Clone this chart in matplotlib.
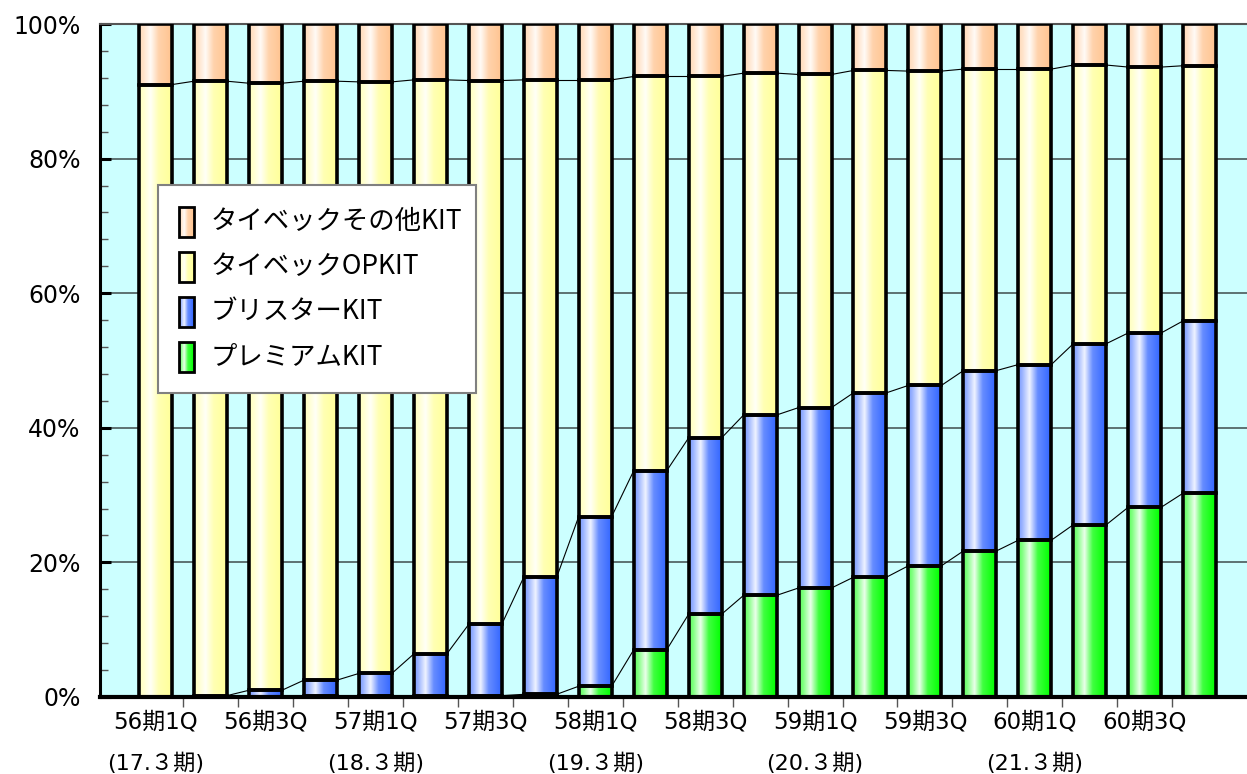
import numpy as np
import matplotlib
matplotlib.use("Agg")
import matplotlib.pyplot as plt
from matplotlib.patches import Rectangle
from matplotlib.colors import to_rgb
import matplotlib.transforms as mtransforms

# ---- data (share of each kit type, %) ----
quarters = ["56期1Q", "56期2Q", "56期3Q", "56期4Q",
            "57期1Q", "57期2Q", "57期3Q", "57期4Q",
            "58期1Q", "58期2Q", "58期3Q", "58期4Q",
            "59期1Q", "59期2Q", "59期3Q", "59期4Q",
            "60期1Q", "60期2Q", "60期3Q", "60期4Q"]
fiscal_notes = {0: "(17.３期)", 4: "(18.３期)", 8: "(19.３期)",
                12: "(20.３期)", 16: "(21.３期)"}

premium = [0.0, 0.0, 0.0, 0.2, 0.2, 0.2, 0.2, 0.4, 1.6, 7.0,
           12.3, 15.1, 16.2, 17.8, 19.5, 21.7, 23.3, 25.6, 28.2, 30.3]
blister = [0.0, 0.2, 1.0, 2.3, 3.3, 6.2, 10.6, 17.4, 25.2, 26.6,
           26.2, 26.8, 26.8, 27.4, 26.8, 26.8, 26.1, 26.9, 25.9, 25.6]
op_kit = [91.0, 91.3, 90.2, 89.0, 87.9, 85.3, 80.8, 73.9, 64.9, 58.6,
          53.7, 50.8, 49.5, 47.9, 46.7, 44.8, 43.9, 41.4, 39.5, 37.9]
other_kit = [9.0, 8.5, 8.8, 8.5, 8.6, 8.3, 8.4, 8.3, 8.3, 7.8,
             7.8, 7.3, 7.5, 6.9, 7.0, 6.7, 6.7, 6.1, 6.4, 6.2]

series_names = ["プレミアムKIT", "ブリスターKIT", "タイベックOPKIT", "タイベックその他KIT"]
series_colors = ["#00FF00", "#3366FF", "#FFFF99", "#FFC490"]
series_values = [premium, blister, op_kit, other_kit]

W, H = 1247, 774
fig = plt.figure(figsize=(W / 100, H / 100), dpi=100)
fig.patch.set_facecolor("white")

ax_left, ax_right, ax_top, ax_bottom = 100, 1247, 24, 697
ax = fig.add_axes([ax_left / W, 1 - ax_bottom / H,
                   (ax_right - ax_left) / W, (ax_bottom - ax_top) / H])
ax.set_facecolor("#CCFFFF")

pitch = 54.96
x0 = 155.5
xlim = ((ax_left - x0) / pitch, (ax_right - x0) / pitch)
bar_w = 0.6


def shade(base, n=64):
    """Horizontal cylinder-like shading from a base colour."""
    t = np.linspace(0, 1, n)
    f = np.interp(t, [0, 0.12, 0.35, 0.6, 1.0], [0.35, 0.5, 0.92, 0.25, 0.0])
    rgb = np.array(to_rgb(base))
    col = rgb[None, :] * (1 - f[:, None]) + f[:, None]
    return col[None, :, :]


# gridlines
for g in [20, 40, 60, 80]:
    ax.axhline(g, color="#4a5a5a", lw=1.2, zorder=1)

n = len(quarters)
xs = np.arange(n)
bottoms = np.zeros(n)
tops_per_series = []
for vals, col in zip(series_values, series_colors):
    vals = np.array(vals, dtype=float)
    img = shade(col)
    for i in range(n):
        if vals[i] <= 0:
            continue
        b, t = bottoms[i], bottoms[i] + vals[i]
        ax.imshow(img, extent=(xs[i] - bar_w / 2, xs[i] + bar_w / 2, b, t),
                  aspect="auto", interpolation="bilinear", zorder=3)
        ax.add_patch(Rectangle((xs[i] - bar_w / 2, b), bar_w, vals[i],
                               facecolor="none", edgecolor="black",
                               lw=2.6, zorder=4))
    bottoms = bottoms + vals
    tops_per_series.append(bottoms.copy())

# series connector lines between neighbouring bars
for tops in tops_per_series[:-1]:
    for i in range(n - 1):
        ax.plot([xs[i] + bar_w / 2, xs[i + 1] - bar_w / 2],
                [tops[i], tops[i + 1]], color="black", lw=0.8, zorder=2)

ax.set_xlim(*xlim)
ax.set_ylim(0, 100)

# spines
ax.spines["right"].set_visible(False)
ax.spines["top"].set_color("#555555")
ax.spines["top"].set_linewidth(1.5)
ax.spines["left"].set_color("black")
ax.spines["left"].set_linewidth(2.2)
ax.spines["bottom"].set_color("black")
ax.spines["bottom"].set_linewidth(3)
ax.spines["bottom"].set_zorder(6)

# y axis
ax.set_yticks(np.arange(0, 101, 20))
ax.set_yticklabels([f"{v}%" for v in range(0, 101, 20)])
ax.set_yticks(np.arange(0, 101, 4), minor=True)
ax.tick_params(axis="y", which="major", direction="in", length=8, width=2.2,
               color="black", pad=14, labelsize=17, labelcolor="black")
ax.tick_params(axis="y", which="minor", direction="in", length=6, width=1,
               color="#555555")
for lbl in ax.get_yticklabels():
    lbl.set_family("DejaVu Sans")

# x axis: tick marks between categories, labels drawn as text
ax.set_xticks([])
ax.set_xticks(xs[:-1] + 0.5, minor=True)
ax.tick_params(axis="x", which="minor", direction="out", length=7, width=1,
               color="#555555")
trans = mtransforms.blended_transform_factory(ax.transData, ax.transAxes)
row1 = (ax_bottom - 722) / (ax_bottom - ax_top)
row2 = (ax_bottom - 763) / (ax_bottom - ax_top)
for i in range(0, n, 2):
    ax.text(xs[i], row1, quarters[i], transform=trans, ha="center", va="center",
            fontsize=16.5, family=["DejaVu Sans", "Noto Sans CJK JP"])
    if i in fiscal_notes:
        ax.text(xs[i], row2, fiscal_notes[i], transform=trans, ha="center",
                va="center", fontsize=16,
                family=["DejaVu Sans", "Noto Sans CJK JP"])

# legend panel
lx0, ly0, lx1, ly1 = 158, 185, 476, 393
lax = fig.add_axes([lx0 / W, 1 - ly1 / H, (lx1 - lx0) / W, (ly1 - ly0) / H],
                   zorder=10)
lw_, lh_ = lx1 - lx0, ly1 - ly0
lax.add_patch(Rectangle((0, 0), lw_, lh_, facecolor="white",
                        edgecolor="#808080", lw=1.5, clip_on=False, zorder=0))
for k, idx in enumerate([3, 2, 1, 0]):
    cy = 36.7 + 45 * k
    lax.imshow(shade(series_colors[idx]), extent=(21, 36, cy + 15, cy - 15),
               aspect="auto", interpolation="bilinear", zorder=2)
    lax.add_patch(Rectangle((21, cy - 15), 15, 30, facecolor="none",
                            edgecolor="black", lw=2, zorder=3))
    lax.text(53, cy, series_names[idx], va="center", ha="left", fontsize=19,
             family=["Noto Sans CJK JP"], color="black")
lax.set_xlim(0, lw_)
lax.set_ylim(lh_, 0)
lax.axis("off")

fig.savefig("out.png", dpi=100)
